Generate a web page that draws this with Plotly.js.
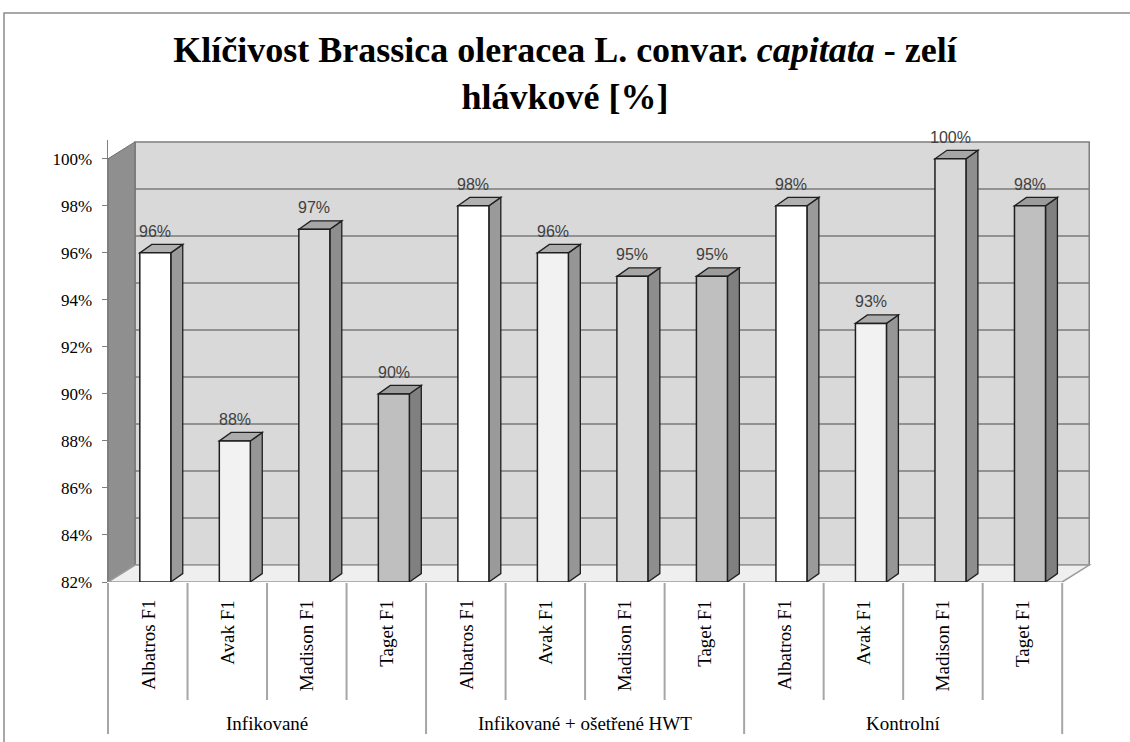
<!DOCTYPE html>
<html><head><meta charset="utf-8">
<script src="https://cdn.plot.ly/plotly-3.0.1.min.js"></script>
<style>html,body{margin:0;padding:0;background:#fff}</style>
</head><body><div id="chart" style="width:1130px;height:742px"></div>
<script>
// ---- data ----
const groups = ["Infikované", "Infikované + ošetřené HWT", "Kontrolní"];
const varieties = ["Albatros F1", "Avak F1", "Madison F1", "Taget F1"];
const infikovane = [96, 88, 97, 90];
const infikovaneHWT = [98, 96, 95, 95];
const kontrolni = [98, 93, 100, 98];
const yTicks = [82, 84, 86, 88, 90, 92, 94, 96, 98, 100];
const yTickLabels = ["82%", "84%", "86%", "88%", "90%", "92%", "94%", "96%", "98%", "100%"];

// ---- style ----
const frontColors = ['#ffffff', '#f2f2f2', '#d9d9d9', '#bfbfbf'];
const sideColors = ['#9a9a9a', '#969696', '#8e8e8e', '#808080'];
const topColors = ['#b0b0b0', '#acacac', '#a6a6a6', '#9c9c9c'];
const edge = '#1f1f1f';
const SERIF = 'Liberation Serif';

const seriesByGroup = [infikovane, infikovaneHWT, kontrolni];
const values = [], colorsF = [], colorsS = [], colorsT = [], cats = [];
seriesByGroup.forEach((s, g) => s.forEach((v, k) => {
  values.push(v); colorsF.push(frontColors[k]); colorsS.push(sideColors[k]); colorsT.push(topColors[k]);
  cats.push(varieties[k]);
}));
const N = values.length;
const XMAX = 12.4, YMIN = 82, YMAX = 100.8;
const DX = 0.34, DY = 0.72;      // wall depth
const bx0 = 0.40, bx1 = 0.79;    // bar front face within slot
const bdx = 0.15, bdy = 0.36;    // bar depth
const W = 986, H = 442, L = 108, T = 140;
const px2paperX = p => (p - L) / W;
const px2paperY = p => (T + H - p) / H;

const shapes = [];
// outer frame
shapes.push({type: 'rect', xref: 'paper', yref: 'paper', x0: px2paperX(4), x1: px2paperX(1140), y0: px2paperY(750), y1: px2paperY(13),
  line: {color: '#8c8c8c', width: 1.5}, fillcolor: 'rgba(0,0,0,0)', layer: 'below'});
// back wall
shapes.push({type: 'rect', xref: 'x', yref: 'y', x0: DX, x1: N + DX, y0: YMIN + DY, y1: yTicks[yTicks.length - 1] + DY,
  fillcolor: '#d9d9d9', line: {color: '#7f7f7f', width: 1.5}, layer: 'below'});
// gridlines
yTicks.slice(1, -1).forEach(t => shapes.push({type: 'line', xref: 'x', yref: 'y', x0: DX, x1: N + DX, y0: t + DY, y1: t + DY,
  line: {color: '#7a7a7a', width: 1.5}, layer: 'below'}));
// left wall
shapes.push({type: 'path', xref: 'x', yref: 'y',
  path: `M 0,${YMIN} L ${DX},${YMIN + DY} L ${DX},${100 + DY} L 0,100 Z`,
  fillcolor: '#8f8f8f', line: {color: '#6e6e6e', width: 1}, layer: 'below'});
// floor
shapes.push({type: 'path', xref: 'x', yref: 'y',
  path: `M 0,${YMIN} L ${N},${YMIN} L ${N + DX},${YMIN + DY} L ${DX},${YMIN + DY} Z`,
  fillcolor: '#efefef', line: {color: '#9a9a9a', width: 1.5}, layer: 'below'});
// bar sides and tops
values.forEach((v, i) => {
  const x0 = i + bx0, x1 = i + bx1;
  shapes.push({type: 'path', xref: 'x', yref: 'y',
    path: `M ${x1},${YMIN} L ${x1},${v} L ${x1 + bdx},${v + bdy} L ${x1 + bdx},${YMIN + bdy} Z`,
    fillcolor: colorsS[i], line: {color: edge, width: 1.3}, layer: 'below'});
  shapes.push({type: 'path', xref: 'x', yref: 'y',
    path: `M ${x0},${v} L ${x1},${v} L ${x1 + bdx},${v + bdy} L ${x0 + bdx},${v + bdy} Z`,
    fillcolor: colorsT[i], line: {color: edge, width: 1.3}, layer: 'below'});
});
// category dividers
for (let i = 0; i <= N; i++) {
  const isGroup = i % varieties.length === 0;
  shapes.push({type: 'line', xref: 'paper', yref: 'paper', x0: i / XMAX, x1: i / XMAX,
    y0: px2paperY(583), y1: px2paperY(isGroup ? 734 : 700), line: {color: '#a6a6a6', width: 2}});
}

const annotations = [];
values.forEach((v, i) => annotations.push({x: i + (bx0 + bx1) / 2, y: v, xref: 'x', yref: 'y', text: v + '%',
  showarrow: false, yanchor: 'bottom', yshift: 11, font: {family: 'Liberation Sans', size: 16, color: '#404040'}}));
cats.forEach((c, i) => annotations.push({x: i + 0.5, y: px2paperY(598), xref: 'x', yref: 'paper', text: c,
  showarrow: false, textangle: -90, yanchor: 'top', xanchor: 'center',
  font: {family: SERIF, size: 19, color: '#000'}}));
groups.forEach((g, k) => annotations.push({x: k * varieties.length + varieties.length / 2, y: px2paperY(723), xref: 'x', yref: 'paper',
  text: g, showarrow: false, yanchor: 'middle', font: {family: SERIF, size: 19, color: '#000'}}));

const trace = {
  type: 'bar', x: values.map((v, i) => i + (bx0 + bx1) / 2), y: values.map(v => v - YMIN), base: YMIN,
  width: bx1 - bx0, marker: {color: colorsF, line: {color: edge, width: 1.5}}, hoverinfo: 'skip'
};

const layout = {
  width: 1130, height: 742,
  margin: {l: L, r: 1130 - L - W, t: T, b: 742 - T - H},
  paper_bgcolor: '#ffffff', plot_bgcolor: 'rgba(0,0,0,0)',
  showlegend: false,
  title: {text: '<b>Klíčivost Brassica oleracea L. convar. <i>capitata</i> - zelí<br>hlávkové [%]</b>',
    font: {family: SERIF, size: 36, color: '#000'},
    x: 0.5, xanchor: 'center', y: 1 - 62 / 742, yanchor: 'top', yref: 'container'},
  xaxis: {range: [0, XMAX], visible: false, fixedrange: true},
  yaxis: {range: [YMIN, YMAX], tickvals: yTicks, ticktext: yTickLabels, ticks: 'outside', ticklen: 5, tickcolor: '#7f7f7f',
    showline: true, linecolor: '#7f7f7f', linewidth: 1.5, showgrid: false, zeroline: false, ticklabelstandoff: 6,
    tickfont: {family: SERIF, size: 17, color: '#000'}},
  shapes: shapes, annotations: annotations
};
Plotly.newPlot('chart', [trace], layout, {displayModeBar: false, staticPlot: true});
</script></body></html>
